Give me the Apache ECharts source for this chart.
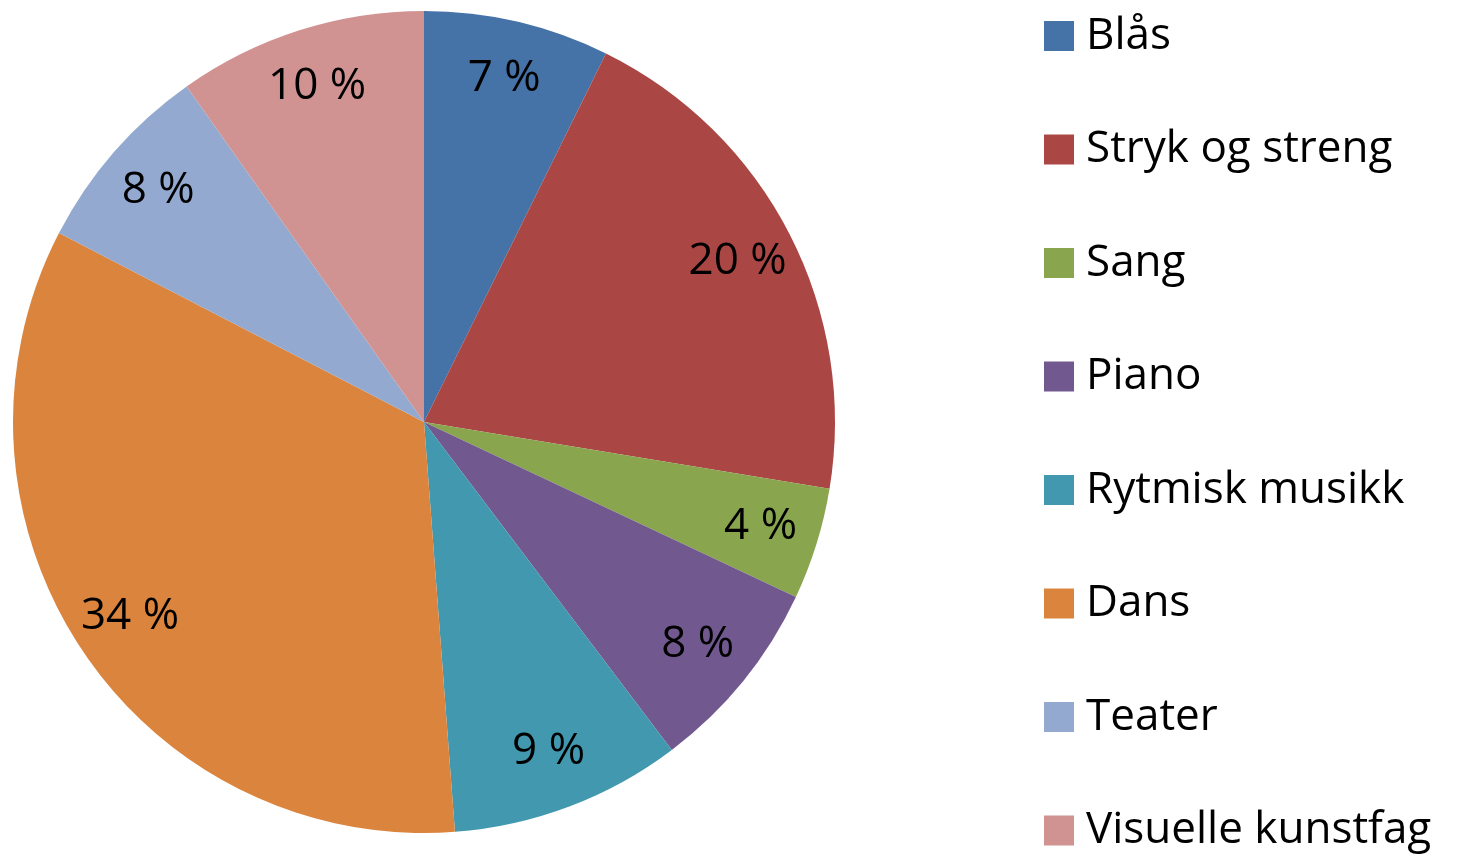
<!DOCTYPE html>
<html>
<head>
<meta charset="utf-8">
<script src="https://cdn.jsdelivr.net/npm/echarts@6/dist/echarts.min.js"></script>
<style>
  html, body { margin: 0; padding: 0; background: #fff; }
  #chart { width: 1458px; height: 857px; }
</style>
</head>
<body>
<div id="chart"></div>
<script>
// kategorier og andeler (prosent)
const categories = ["Blås", "Stryk og streng", "Sang", "Piano", "Rytmisk musikk", "Dans", "Teater", "Visuelle kunstfag"];
const shares = [7.3, 20.3, 4.4, 7.7, 9.1, 33.8, 7.6, 9.8];
const colors = ["#4572A7", "#AA4643", "#89A54E", "#71588F", "#4198AF", "#DB843D", "#93A9CF", "#D19392"];

const fontFamily = "'Open Sans', 'DejaVu Sans', sans-serif";

const pieData = categories.map((name, i) => ({
  name: name,
  value: shares[i],
  itemStyle: { color: colors[i] },
}));

const chart = echarts.init(document.getElementById("chart"));

chart.setOption({
  animation: false,
  legend: {
    orient: "vertical",
    left: 1044,
    top: 14,
    padding: 0,
    icon: "rect",
    itemWidth: 30,
    itemHeight: 30,
    itemGap: 69.5,
    data: categories,
    textStyle: {
      fontFamily: fontFamily,
      fontSize: 44,
      color: "#000",
      padding: [0, 0, 0, 7],
    },
  },
  series: [
    // selve kaka
    {
      type: "pie",
      center: [424, 422],
      radius: [0, 411],
      startAngle: 90,
      clockwise: true,
      silent: true,
      label: { show: false },
      labelLine: { show: false },
      itemStyle: { borderWidth: 0 },
      data: pieData,
    },
    // usynlig ring bare for etikettene (plassert nær kanten)
    {
      type: "pie",
      center: [424, 422],
      radius: [288, 411],
      startAngle: 90,
      clockwise: true,
      silent: true,
      legendHoverLink: false,
      itemStyle: { color: "rgba(0,0,0,0)", borderWidth: 0 },
      label: {
        show: true,
        position: "inside",
        fontFamily: fontFamily,
        fontSize: 44,
        color: "#000",
        formatter: (p) => Math.round(p.percent) + " %",
      },
      labelLine: { show: false },
      data: categories.map((name, i) => ({ name: name, value: shares[i] })),
    },
  ],
});
</script>
</body>
</html>
